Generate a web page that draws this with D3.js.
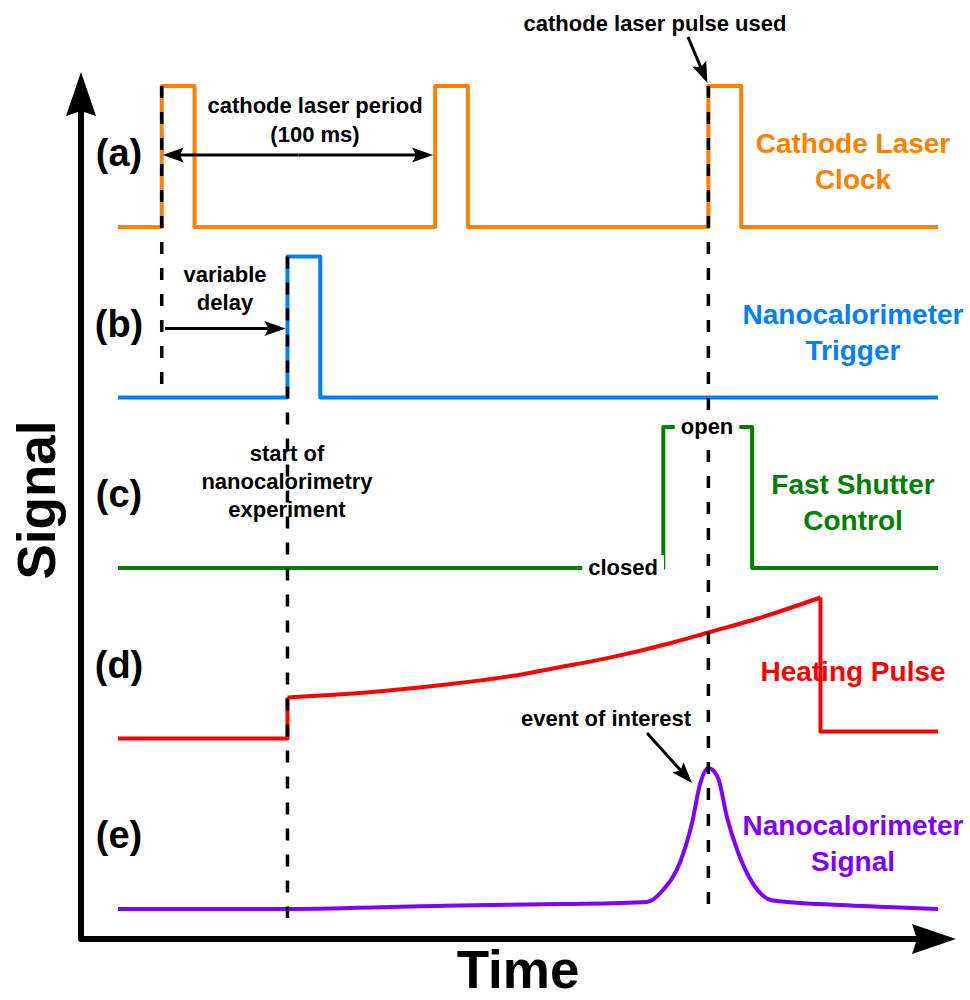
<!DOCTYPE html>
<html>
<head>
<meta charset="utf-8">
<script src="https://cdn.jsdelivr.net/npm/d3@7"></script>
<style>
  body { margin: 0; background: #fff; }
  svg { display: block; }
  text { font-family: "Liberation Sans", Arial, Helvetica, sans-serif; font-weight: bold; }
</style>
</head>
<body>
<svg id="chart" width="970" height="1000"></svg>
<script>
// ---- timing diagram data (time in ms, signal level 0..1 per channel) ----
const channels = ["a", "b", "c", "d", "e"];
const channelTags = ["(a)", "(b)", "(c)", "(d)", "(e)"];
const channelNames = [
  ["Cathode Laser", "Clock"],
  ["Nanocalorimeter", "Trigger"],
  ["Fast Shutter", "Control"],
  ["Heating Pulse"],
  ["Nanocalorimeter", "Signal"]
];
const channelColors = ["#ff8000", "#0080ff", "#008000", "#ff0000", "#8000ff"];

const timeSpan = [-16, 284];

// (a) cathode laser clock: 100 ms period, 12 ms pulses
const laserClock = [[-16,0],[0,0],[0,1],[12,1],[12,0],[100,0],[100,1],[112,1],[112,0],
                    [200,0],[200,1],[212,1],[212,0],[284,0]];
// (b) nanocalorimeter trigger
const triggerPulse = [[-16,0],[46,0],[46,1],[58,1],[58,0],[284,0]];
// (c) fast shutter control
const shutterControl = [[-16,0],[183.5,0],[183.5,1],[216,1],[216,0],[284,0]];
// (d) heating pulse: off, ramp, off
const heatingOff = [[-16,0],[46,0],[46,0.291]];
const heatingRamp = [[46,0.291],[80,0.335],[104,0.383],[128,0.443],[146,0.507],[163,0.57],
                     [187,0.681],[200,0.752],[218,0.851],[241,1.0]];
const heatingEnd = [[241,1.0],[241,0.05],[284,0.05]];
// (e) nanocalorimeter signal with the event peak
const calSignal = [[-16,0],[46,0],[108,0.025],[147,0.035],[177.5,0.05],[183.4,0.135],
                   [189.6,0.33],[194,0.61],[197,0.89],[200,1],[203.5,0.93],[206.8,0.65],
                   [210.5,0.42],[216.3,0.18],[223.6,0.06],[240.8,0.035],[265.3,0.014],[284,0]];

// event markers: time, start channel/level, end channel/level
const markerLines = [
  { t: 0,   from: ["a", 1], to: ["b", 0.03] },
  { t: 46,  from: ["b", 1], to: ["e", -0.064] },
  { t: 200, from: ["a", 1], to: ["e", -0.064] }
];

// ---- scales ----
const x = d3.scaleLinear().domain(timeSpan).range([118, 938]);
const base = d3.scalePoint().domain(channels).range([227, 909]);
const amp = d3.scaleLinear().domain([0, 1]).range([0, 141]);
const yOf = (ch, v) => base(ch) - amp(v);

const svg = d3.select("#chart");

// ---- arrow helper: shaft plus swept-back head ----
function arrow(g, x1, y1, x2, y2, o) {
  const dx = x2 - x1, dy = y2 - y1, L = Math.hypot(dx, dy);
  const ux = dx / L, uy = dy / L, px = -uy, py = ux;
  const len = o.len, half = o.half, notch = o.notch;
  g.append("line")
    .attr("x1", x1).attr("y1", y1)
    .attr("x2", x2 - ux * (len - notch)).attr("y2", y2 - uy * (len - notch))
    .attr("stroke", "#000").attr("stroke-width", o.width)
    .attr("stroke-linecap", o.cap || "butt");
  const bx = x2 - ux * len, by = y2 - uy * len;
  const nx = x2 - ux * (len - notch), ny = y2 - uy * (len - notch);
  g.append("path")
    .attr("d", `M${x2},${y2}L${bx + px * half},${by + py * half}L${nx},${ny}L${bx - px * half},${by - py * half}Z`)
    .attr("fill", "#000");
}

// ---- axes ----
const axes = svg.append("g");
axes.append("path")
  .attr("d", `M81,100L81,939L918,939`)
  .attr("fill", "none").attr("stroke", "#000").attr("stroke-width", 6)
  .attr("stroke-linejoin", "round");
arrow(axes, 81, 110, 81, 72, { len: 44, half: 15, notch: 5, width: 6 });
arrow(axes, 900, 939, 956, 939, { len: 44, half: 15, notch: 5, width: 6 });

axes.append("text")
  .attr("transform", "translate(55,500) rotate(-90)")
  .attr("text-anchor", "middle").attr("font-size", 53).text("Signal");
axes.append("text")
  .attr("x", 518).attr("y", 988)
  .attr("text-anchor", "middle").attr("font-size", 53).text("Time");

// ---- traces ----
function trace(ch, data, curve, color) {
  const ln = d3.line().x(d => x(d[0])).y(d => yOf(ch, d[1])).curve(curve);
  svg.append("path")
    .attr("d", ln(data))
    .attr("fill", "none").attr("stroke", color).attr("stroke-width", 4)
    .attr("stroke-linejoin", "round").attr("stroke-linecap", "butt");
}
trace("a", laserClock, d3.curveLinear, channelColors[0]);
trace("b", triggerPulse, d3.curveLinear, channelColors[1]);
trace("c", shutterControl, d3.curveLinear, channelColors[2]);
trace("d", heatingOff, d3.curveLinear, channelColors[3]);
trace("d", heatingRamp, d3.curveMonotoneX, channelColors[3]);
trace("d", heatingEnd, d3.curveLinear, channelColors[3]);
trace("e", calSignal, d3.curveMonotoneX, channelColors[4]);

// ---- dashed event markers ----
svg.append("g").selectAll("line").data(markerLines).join("line")
  .attr("x1", d => x(d.t)).attr("x2", d => x(d.t))
  .attr("y1", d => yOf(d.from[0], d.from[1]))
  .attr("y2", d => yOf(d.to[0], d.to[1]))
  .attr("stroke", "#000").attr("stroke-width", 3.5)
  .attr("stroke-dasharray", "12,14");

// ---- channel tags and names ----
svg.append("g").selectAll("text").data(channels).join("text")
  .attr("x", 119).attr("y", ch => base(ch) - 61)
  .attr("text-anchor", "middle").attr("font-size", 38)
  .text((ch, i) => channelTags[i]);

const names = svg.append("g");
channels.forEach((ch, i) => {
  const lines = channelNames[i];
  const top = lines.length === 1 ? base(ch) - 58 : base(ch) - 74;
  lines.forEach((s, j) => {
    names.append("text")
      .attr("x", 853).attr("y", top + j * 36)
      .attr("text-anchor", "middle").attr("font-size", 28)
      .attr("fill", channelColors[i]).text(s);
  });
});

// ---- annotations ----
const ann = svg.append("g");
function label(lines, cx, y0, dy) {
  lines.forEach((s, j) => ann.append("text")
    .attr("x", cx).attr("y", y0 + j * dy)
    .attr("text-anchor", "middle").attr("font-size", 22).text(s));
}
const headSmall = { len: 21, half: 7.5, notch: 4, width: 3 };

label(["cathode laser period", "(100 ms)"], 315, 113, 29);
arrow(ann, x(50), yOf("a", 0.51), x(0) + 1, yOf("a", 0.51), headSmall);
arrow(ann, x(50), yOf("a", 0.51), x(100) - 2, yOf("a", 0.51), headSmall);

label(["variable", "delay"], 225, 282, 28);
arrow(ann, x(1.2), yOf("b", 0.49), x(46) - 2, yOf("b", 0.49), headSmall);

label(["start of", "nanocalorimetry", "experiment"], 287, 461, 28);

label(["cathode laser pulse used"], 655, 31, 0);
arrow(ann, 688, 37, x(200) - 1, yOf("a", 1) - 3, headSmall);

label(["event of interest"], 606, 726, 0);
arrow(ann, 647, 733, 692, 783, headSmall);

// shutter state labels sitting on the trace
function stateLabel(text, t, ch, v) {
  const g = svg.append("g");
  const tx = g.append("text")
    .attr("x", x(t)).attr("y", yOf(ch, v) + 7)
    .attr("text-anchor", "middle").attr("font-size", 22).text(text);
  const bb = tx.node().getBBox();
  g.insert("rect", "text")
    .attr("x", bb.x - 6).attr("y", bb.y).attr("width", bb.width + 12).attr("height", bb.height)
    .attr("fill", "#fff");
}
stateLabel("closed", 168.8, "c", 0);
stateLabel("open", 199.5, "c", 1);
</script>
</body>
</html>
